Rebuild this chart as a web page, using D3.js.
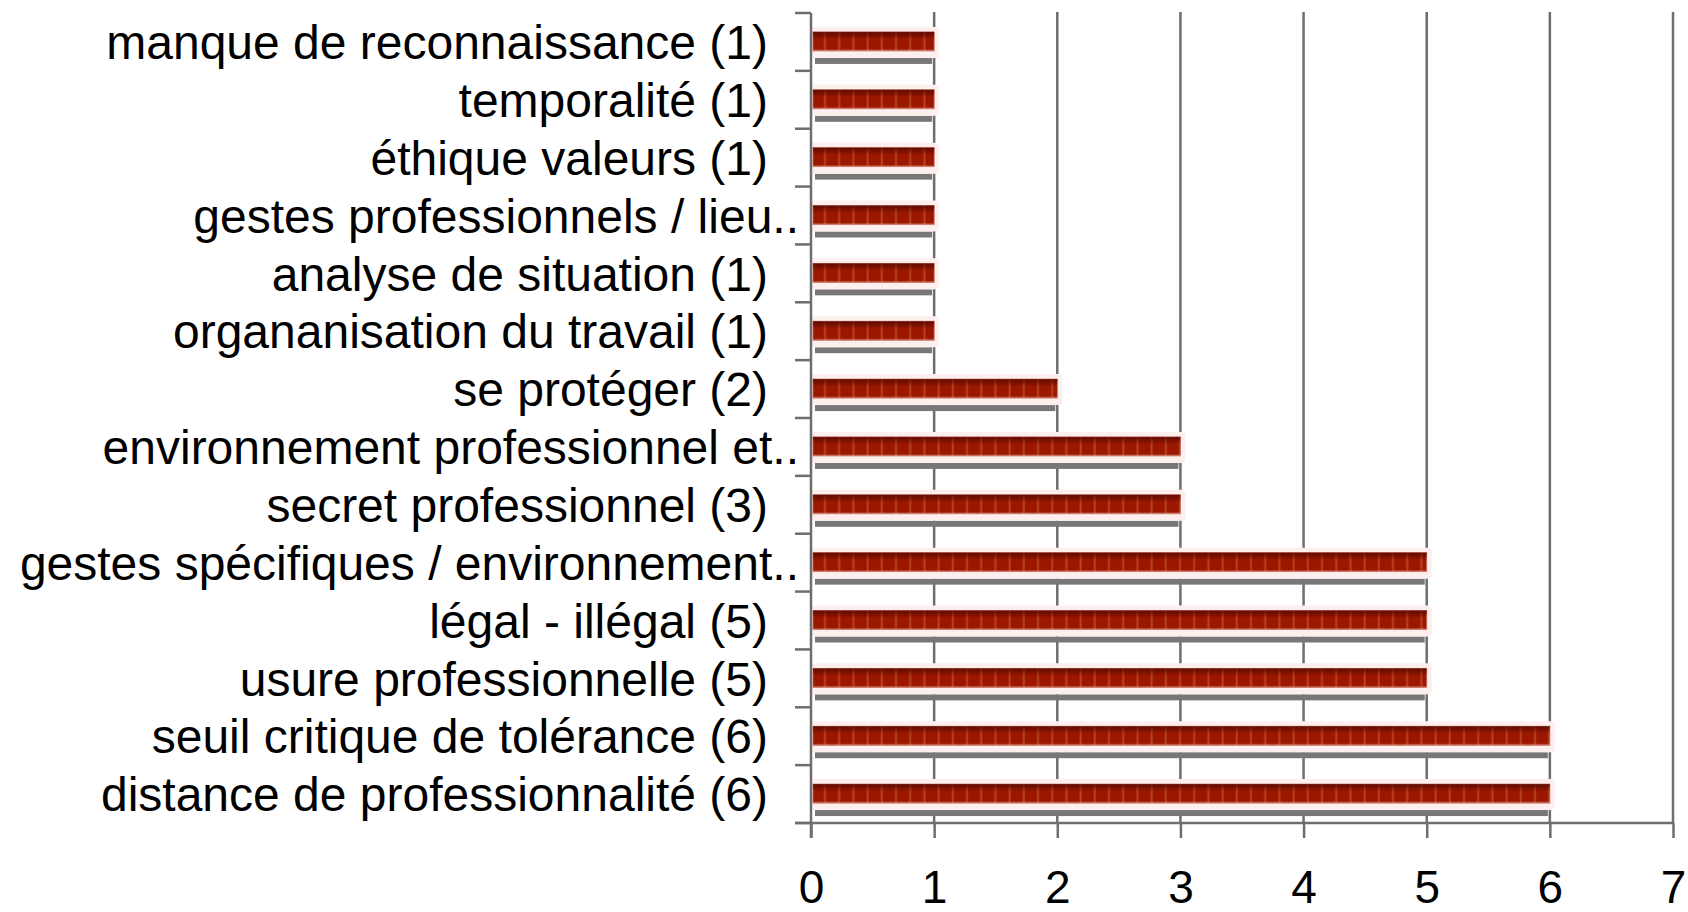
<!DOCTYPE html>
<html>
<head>
<meta charset="utf-8">
<script src="https://d3js.org/d3.v7.min.js"></script>
<style>
  html, body { margin: 0; padding: 0; background: #fff; }
  svg { display: block; }
  text { font-family: "Liberation Sans", Arial, sans-serif; fill: #000; }
</style>
</head>
<body>
<svg width="1688" height="912"></svg>
<script>
// categories, top to bottom, as displayed (Excel truncates the long ones)
var categories = [
	"manque de reconnaissance (1)",
	"temporalité (1)",
	"éthique valeurs (1)",
	"gestes professionnels / lieu..",
	"analyse de situation (1)",
	"organanisation du travail (1)",
	"se protéger (2)",
	"environnement professionnel et..",
	"secret professionnel (3)",
	"gestes spécifiques / environnement..",
	"légal - illégal (5)",
	"usure professionnelle (5)",
	"seuil critique de tolérance (6)",
	"distance de professionnalité (6)"
];
var values = [1, 1, 1, 1, 1, 1, 2, 3, 3, 5, 5, 5, 6, 6];
var xTicks = [0, 1, 2, 3, 4, 5, 6, 7];

var svg = d3.select("svg"),
	width = +svg.attr("width"),
	height = +svg.attr("height");

var axisColor = "#6e6e6e";

var x = d3.scaleLinear().domain([0, 7]).range([811, 1673]);
var y = d3.scaleBand().domain(categories).range([13, 823]).paddingInner(0);
var bw = y.bandwidth();

// striped red texture for bars
var defs = svg.append("defs");
var pat = defs.append("pattern")
	.attr("id", "stripes")
	.attr("patternUnits", "userSpaceOnUse")
	.attr("width", 14.2).attr("height", 40)
	.attr("x", 813);
pat.append("rect").attr("width", 14.2).attr("height", 40).attr("fill", "#9c1700");
pat.append("rect").attr("x", 11).attr("width", 2).attr("height", 40).attr("fill", "#b8431c");

var shade = defs.append("linearGradient")
	.attr("id", "shade").attr("x1", 0).attr("x2", 0).attr("y1", 0).attr("y2", 1);
shade.append("stop").attr("offset", "0").attr("stop-color", "#4a0500").attr("stop-opacity", 0.75);
shade.append("stop").attr("offset", "0.22").attr("stop-color", "#4a0500").attr("stop-opacity", 0.35);
shade.append("stop").attr("offset", "0.4").attr("stop-color", "#4a0500").attr("stop-opacity", 0);
shade.append("stop").attr("offset", "0.9").attr("stop-color", "#fff").attr("stop-opacity", 0);
shade.append("stop").attr("offset", "1").attr("stop-color", "#f0a090").attr("stop-opacity", 0.5);

// gridlines
svg.append("g")
	.selectAll("line")
	.data(xTicks.slice(1))
	.enter().append("line")
	.attr("x1", function (d) { return x(d); })
	.attr("x2", function (d) { return x(d); })
	.attr("y1", y.range()[0] - 1)
	.attr("y2", y.range()[1])
	.style("stroke", axisColor)
	.style("stroke-width", 2.5);

// bars
var bars = svg.append("g")
	.selectAll("g")
	.data(categories)
	.enter().append("g");

function val(d) { return values[categories.indexOf(d)]; }

// shadow
bars.append("rect")
	.attr("x", x(0) + 4)
	.attr("y", function (d) { return y(d) + bw / 2 + 16; })
	.attr("width", function (d) { return x(val(d)) - x(0) - 6; })
	.attr("height", 6)
	.style("fill", "#777");

// pink glow
bars.append("rect")
	.attr("x", x(0) - 1)
	.attr("y", function (d) { return y(d) + bw / 2 - 15; })
	.attr("width", function (d) { return x(val(d)) - x(0) + 6; })
	.attr("height", 31)
	.attr("rx", 4)
	.style("fill", "#fdefee");

// red bar
bars.append("rect")
	.attr("x", x(0) + 2)
	.attr("y", function (d) { return y(d) + bw / 2 - 10; })
	.attr("width", function (d) { return x(val(d)) - x(0) - 2; })
	.attr("height", 19)
	.style("fill", "url(#stripes)")
	.style("stroke", "#c56a5a")
	.style("stroke-width", 0.8);

bars.append("rect")
	.attr("x", x(0) + 2)
	.attr("y", function (d) { return y(d) + bw / 2 - 10; })
	.attr("width", function (d) { return x(val(d)) - x(0) - 2; })
	.attr("height", 19)
	.style("fill", "url(#shade)");

// left axis line + ticks at band edges
var edges = categories.map(function (d) { return y(d); }).concat([y.range()[1]]);
svg.append("line")
	.attr("x1", x(0)).attr("x2", x(0))
	.attr("y1", y.range()[0]).attr("y2", y.range()[1] + 15)
	.style("stroke", axisColor).style("stroke-width", 2.5);
svg.append("g")
	.selectAll("line")
	.data(edges)
	.enter().append("line")
	.attr("x1", x(0) - 16).attr("x2", x(0))
	.attr("y1", function (d) { return d; })
	.attr("y2", function (d) { return d; })
	.style("stroke", axisColor).style("stroke-width", 2.5);

// bottom axis
var xAxis = svg.append("g")
	.attr("transform", "translate(0," + y.range()[1] + ")")
	.call(d3.axisBottom(x).tickValues(xTicks).tickFormat(d3.format("d"))
		.tickSize(15).tickPadding(32).tickSizeOuter(0));
xAxis.select(".domain").remove();
xAxis.selectAll(".tick line").style("stroke", axisColor).style("stroke-width", 2.5);
xAxis.selectAll(".tick text")
	.style("font-size", "46px")
	.style("font-family", "Liberation Sans, Arial, sans-serif")
	.style("fill", "#000");
svg.append("line")
	.attr("x1", x(0) - 16).attr("x2", x(7))
	.attr("y1", y.range()[1]).attr("y2", y.range()[1])
	.style("stroke", axisColor).style("stroke-width", 2.5);

// category labels
svg.append("g")
	.selectAll("text")
	.data(categories)
	.enter().append("text")
	.attr("x", function (d) { return /\.\.$/.test(d) ? 799 : 768; })
	.attr("y", function (d) { return y(d) + bw / 2; })
	.attr("dy", "0.36em")
	.attr("text-anchor", "end")
	.style("font-size", "48px")
	.text(function (d) { return d; });
</script>
</body>
</html>
